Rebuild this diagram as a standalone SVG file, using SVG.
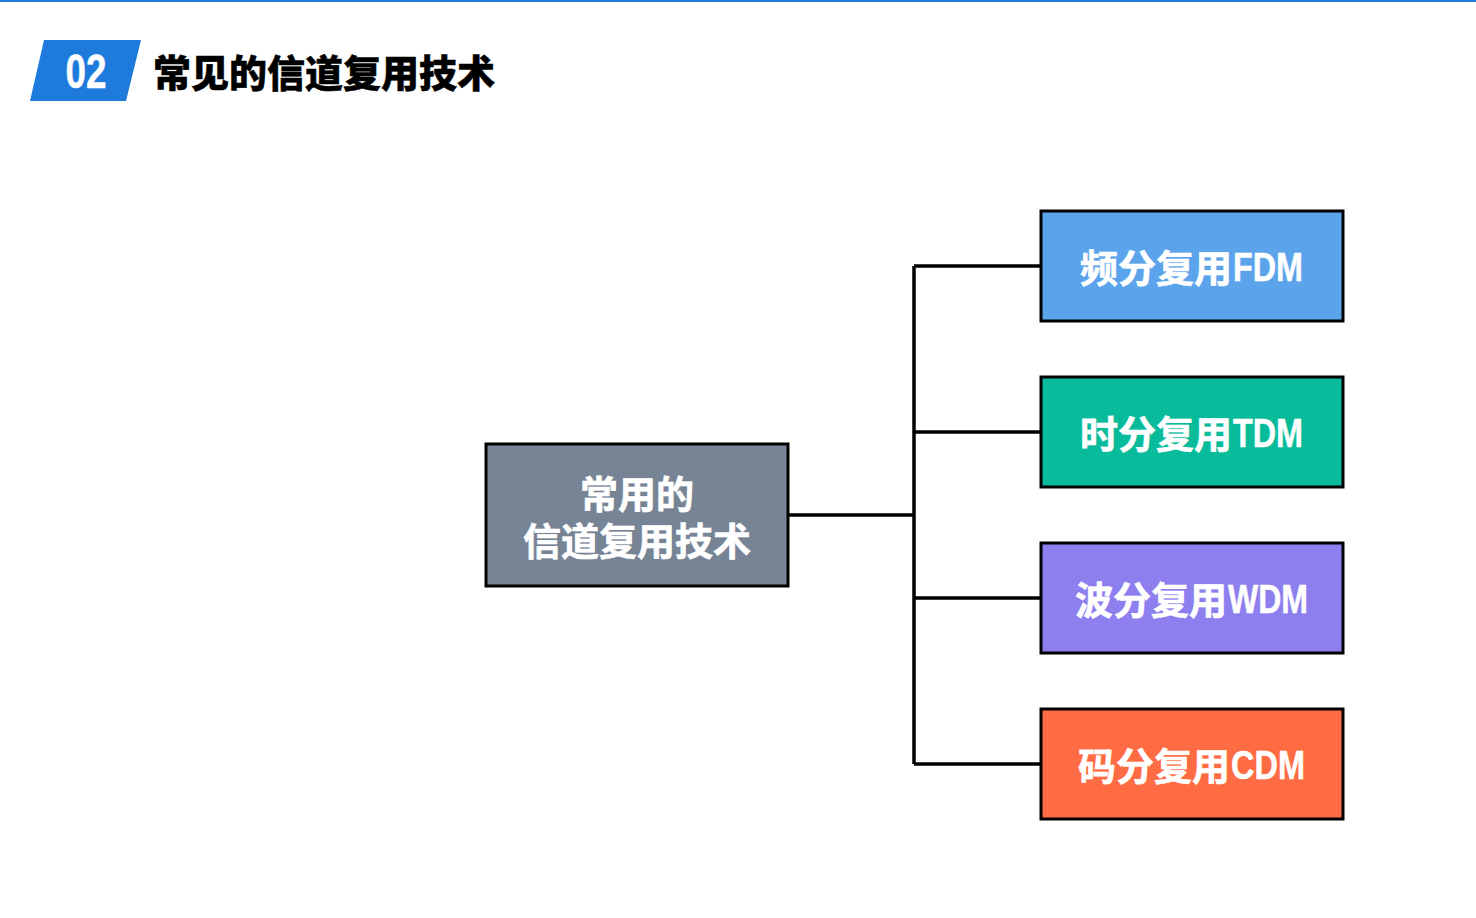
<svg xmlns="http://www.w3.org/2000/svg" width="1476" height="918" viewBox="0 0 1476 918">
<style>
.node rect{stroke:#000;stroke-width:3}
.cjk{font-family:"Noto Sans CJK SC","Liberation Sans",sans-serif;font-weight:700;fill:#fff;stroke:#fff;stroke-width:0.7}
.lat{font-family:"Liberation Sans","Noto Sans",sans-serif;font-weight:700;fill:#fff;stroke:#fff;stroke-width:0.5}
.conn{fill:none;stroke:#000;stroke-width:3.5}
</style>
<rect width="1476" height="918" fill="#fff"/>
<rect x="0" y="0" width="1476" height="2" fill="#1E7BDB"/>
<g id="header">
<polygon points="44,40 141,40 126,101 30,101" fill="#1E7BDB"/>
<text x="86" y="88" text-anchor="middle" class="lat" font-size="49" textLength="41" lengthAdjust="spacingAndGlyphs">02</text>
<text x="153" y="87" font-family="Noto Sans CJK SC,sans-serif" font-weight="900" font-size="38" fill="#000" stroke="#000" stroke-width="0.5">常见的信道复用技术</text>
</g>
<g id="connectors">
<path class="conn" d="M788,515 H914 M914,266 V764 M914,266 H1041 M914,432 H1041 M914,598 H1041 M914,764 H1041"/>
</g>
<g id="center" class="node">
<rect x="486" y="444" width="302" height="142" fill="#778496"/>
<text text-anchor="middle" class="cjk" font-size="38"><tspan x="637" y="508">常用的</tspan><tspan x="637" y="555">信道复用技术</tspan></text>
</g>
<g id="fdm" class="node">
<rect x="1041" y="211" width="302" height="110" fill="#5BA3EA"/>
<text x="1080" y="282" class="cjk" font-size="38">频分复用</text>
<text x="1233" y="281" class="lat" font-size="40" textLength="70" lengthAdjust="spacingAndGlyphs">FDM</text>
</g>
<g id="tdm" class="node">
<rect x="1041" y="377" width="302" height="110" fill="#08BB9A"/>
<text x="1080" y="448" class="cjk" font-size="38">时分复用</text>
<text x="1233" y="447" class="lat" font-size="40" textLength="70" lengthAdjust="spacingAndGlyphs">TDM</text>
</g>
<g id="wdm" class="node">
<rect x="1041" y="543" width="302" height="110" fill="#8E7FEF"/>
<text x="1075" y="614" class="cjk" font-size="38">波分复用</text>
<text x="1228" y="613" class="lat" font-size="40" textLength="80" lengthAdjust="spacingAndGlyphs">WDM</text>
</g>
<g id="cdm" class="node">
<rect x="1041" y="709" width="302" height="110" fill="#FF6B42"/>
<text x="1078" y="780" class="cjk" font-size="38">码分复用</text>
<text x="1231" y="779" class="lat" font-size="40" textLength="74" lengthAdjust="spacingAndGlyphs">CDM</text>
</g>
</svg>
